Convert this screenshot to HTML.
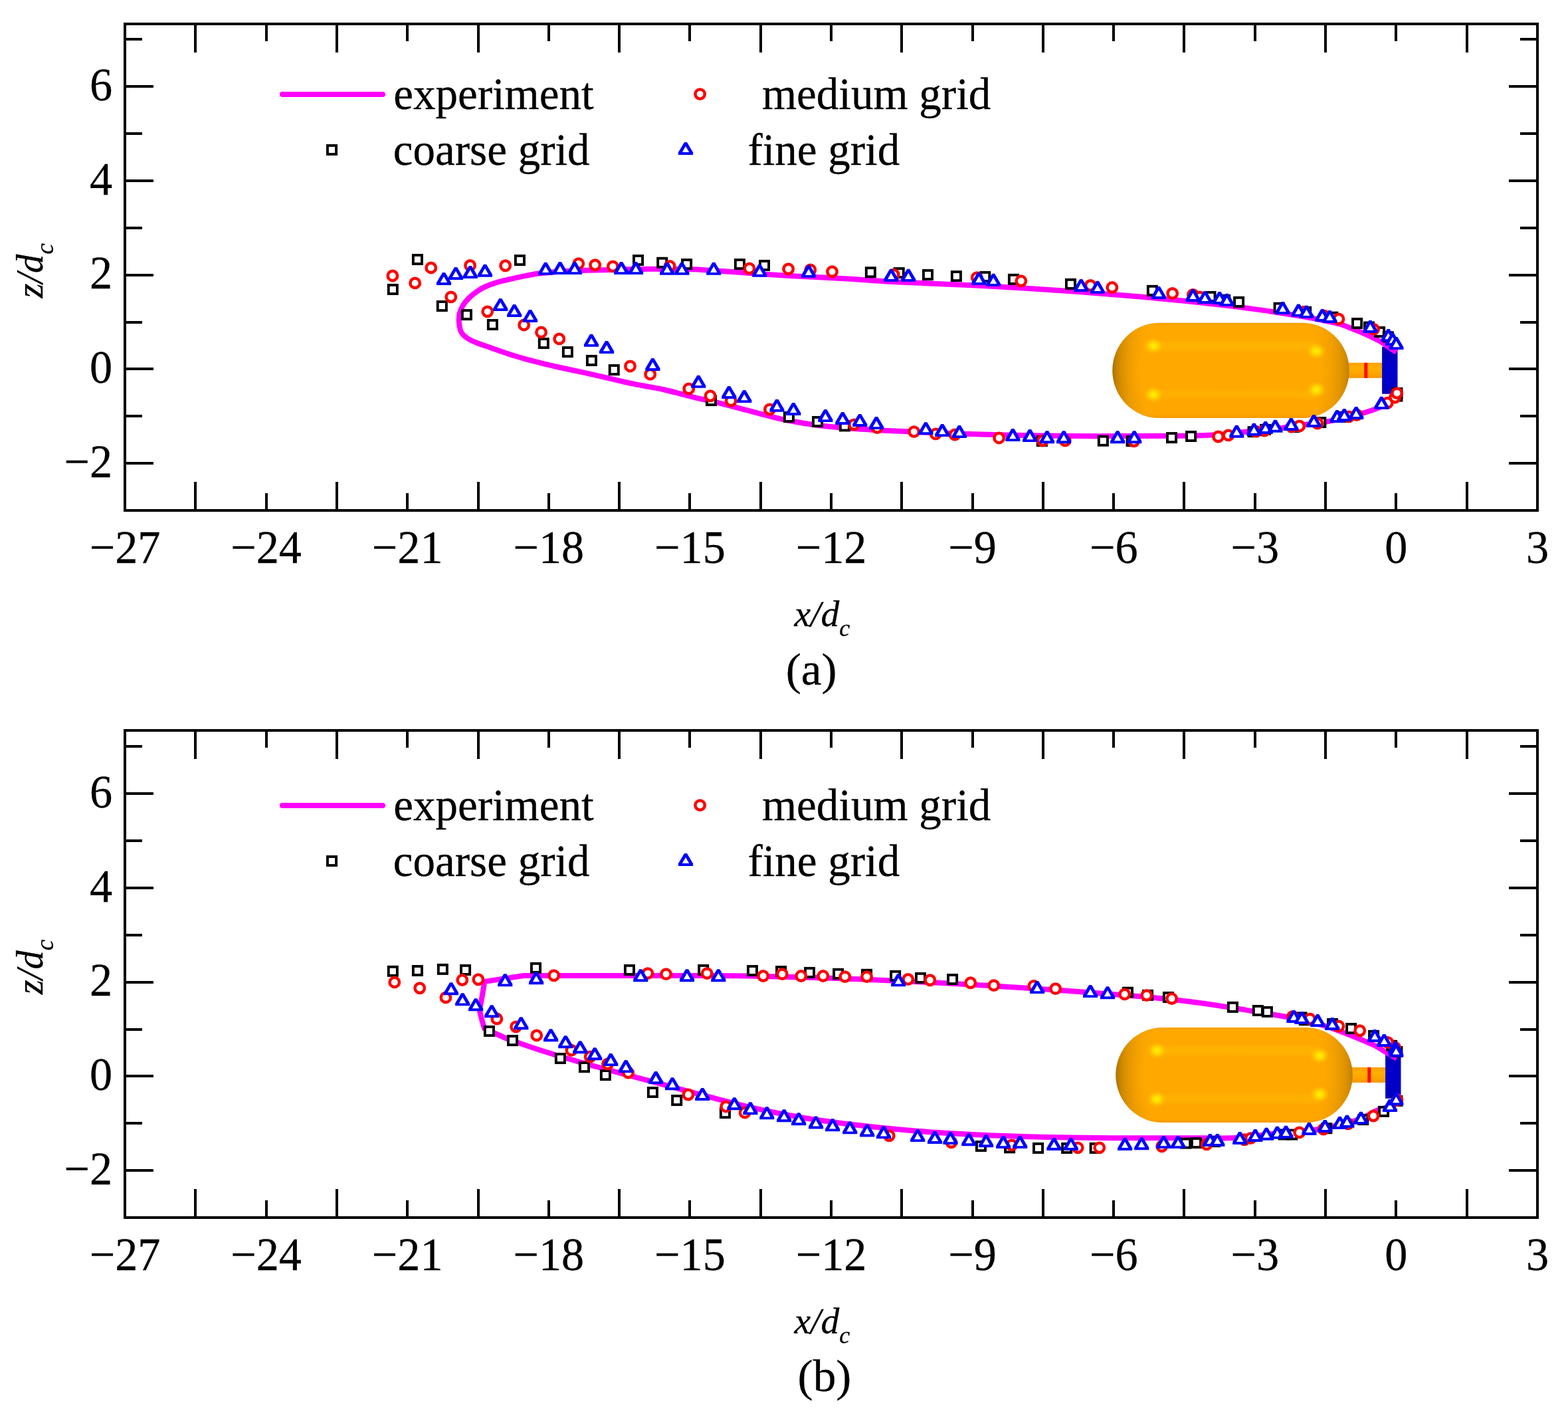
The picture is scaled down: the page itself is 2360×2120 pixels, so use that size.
<!DOCTYPE html>
<html lang="en"><head><meta charset="utf-8"><title>Cavity profile comparison</title>
<style>html,body{margin:0;padding:0;background:#fff}body{width:2360px;height:2120px;overflow:hidden}svg{display:block}</style></head><body>
<svg width="2360" height="2120" viewBox="0 0 2360 2120">
<rect width="2360" height="2120" fill="#fff"/>
<defs>
<linearGradient id="bodyg" x1="0" y1="0" x2="0" y2="1">
<stop offset="0" stop-color="#f7a000"/><stop offset="0.03" stop-color="#ffa800"/><stop offset="0.5" stop-color="#ffa900"/><stop offset="0.96" stop-color="#ffa600"/><stop offset="1" stop-color="#f39a00"/>
</linearGradient>
<linearGradient id="bodyh" x1="0" y1="0" x2="0" y2="1">
<stop offset="0.17" stop-color="#ffd000" stop-opacity="0"/><stop offset="0.245" stop-color="#ffd000" stop-opacity="0.3"/><stop offset="0.32" stop-color="#ffd000" stop-opacity="0"/>
<stop offset="0.68" stop-color="#ffd000" stop-opacity="0"/><stop offset="0.75" stop-color="#ffd000" stop-opacity="0.25"/><stop offset="0.82" stop-color="#ffd000" stop-opacity="0"/>
</linearGradient>
<radialGradient id="capl" gradientUnits="userSpaceOnUse" cx="0" cy="0" r="1" gradientTransform="translate(1744.8 557.4) scale(71.2 215)"><stop offset="0" stop-color="#000" stop-opacity="0"/><stop offset="0.36" stop-color="#000" stop-opacity="0"/><stop offset="0.450" stop-color="#000" stop-opacity="0.018"/><stop offset="0.550" stop-color="#000" stop-opacity="0.044"/><stop offset="0.625" stop-color="#000" stop-opacity="0.069"/><stop offset="0.700" stop-color="#000" stop-opacity="0.099"/><stop offset="0.800" stop-color="#000" stop-opacity="0.150"/><stop offset="0.870" stop-color="#000" stop-opacity="0.198"/><stop offset="0.920" stop-color="#000" stop-opacity="0.244"/><stop offset="0.960" stop-color="#000" stop-opacity="0.294"/><stop offset="0.985" stop-color="#000" stop-opacity="0.342"/><stop offset="1.000" stop-color="#000" stop-opacity="0.420"/></radialGradient>
<radialGradient id="capr" gradientUnits="userSpaceOnUse" cx="0" cy="0" r="1" gradientTransform="translate(1960.3 557.4) scale(71.2 215)"><stop offset="0" stop-color="#000" stop-opacity="0"/><stop offset="0.36" stop-color="#000" stop-opacity="0"/><stop offset="0.450" stop-color="#000" stop-opacity="0.014"/><stop offset="0.550" stop-color="#000" stop-opacity="0.034"/><stop offset="0.625" stop-color="#000" stop-opacity="0.052"/><stop offset="0.700" stop-color="#000" stop-opacity="0.075"/><stop offset="0.800" stop-color="#000" stop-opacity="0.114"/><stop offset="0.870" stop-color="#000" stop-opacity="0.151"/><stop offset="0.920" stop-color="#000" stop-opacity="0.186"/><stop offset="0.960" stop-color="#000" stop-opacity="0.224"/><stop offset="0.985" stop-color="#000" stop-opacity="0.261"/><stop offset="1.000" stop-color="#000" stop-opacity="0.320"/></radialGradient>
<radialGradient id="hl"><stop offset="0" stop-color="#fff200" stop-opacity="1"/><stop offset="0.35" stop-color="#ffe800" stop-opacity="0.8"/><stop offset="1" stop-color="#ffc400" stop-opacity="0"/></radialGradient>
<linearGradient id="neckg" x1="0" y1="0" x2="0" y2="1">
<stop offset="0" stop-color="#ffa000"/><stop offset="0.35" stop-color="#ffb000"/><stop offset="0.7" stop-color="#ffa400"/><stop offset="1" stop-color="#f59600"/>
</linearGradient>
<linearGradient id="discg" x1="0" y1="0" x2="0" y2="1">
<stop offset="0" stop-color="#0000b4"/><stop offset="0.45" stop-color="#0000cd"/><stop offset="1" stop-color="#0000c0"/>
</linearGradient>
<g id="ms"><rect x="-6.55" y="-6.55" width="13.1" height="13.1" fill="#fff" stroke="#000" stroke-width="3.9"/></g><g id="mc"><circle r="7.2" fill="#fff" stroke="#f00" stroke-width="4.5"/></g><g id="mt"><path d="M-11.05 9.5V5.8L-2 -9.5H2L11.05 5.8V9.5z" fill="#00f"/><path d="M0 -3.6L5.2 5.6H-5.2z" fill="#fff"/></g></defs>
<rect x="188" y="36" width="2126" height="732" fill="none" stroke="#000" stroke-width="4"/>
<path d="M294 768v-43M294 36v43M401 768v-26M401 36v26M507 768v-43M507 36v43M613 768v-26M613 36v26M720 768v-43M720 36v43M826 768v-26M826 36v26M932 768v-43M932 36v43M1038 768v-26M1038 36v26M1145 768v-43M1145 36v43M1251 768v-26M1251 36v26M1357 768v-43M1357 36v43M1464 768v-26M1464 36v26M1570 768v-43M1570 36v43M1676 768v-26M1676 36v26M1782 768v-43M1782 36v43M1889 768v-26M1889 36v26M1995 768v-43M1995 36v43M2101 768v-26M2101 36v26M2208 768v-43M2208 36v43M188 697h43M2314 697h-43M188 626h26M2314 626h-26M188 555h43M2314 555h-43M188 485h26M2314 485h-26M188 414h43M2314 414h-43M188 343h26M2314 343h-26M188 272h43M2314 272h-43M188 201h26M2314 201h-26M188 130h43M2314 130h-43M188 59h26M2314 59h-26" fill="none" stroke="#000" stroke-width="4"/>
<g transform="translate(0 0)">
<defs><clipPath id="cac"><path d="M1744.8 485.8H1960.3C1999.24 485.8 2030.8 517.86 2030.8 557.4C2030.8 596.94 1999.24 629 1960.3 629H1744.8C1705.86 629 1674.3 596.94 1674.3 557.4C1674.3 517.86 1705.86 485.8 1744.8 485.8z"/></clipPath></defs>
<rect x="2022.8" y="545.8" width="57.6" height="23" fill="url(#neckg)"/>
<rect x="2053.3" y="545.8" width="5" height="23" fill="#ff0a00"/>
<rect x="2080.1" y="521.8" width="23.4" height="70.9" fill="url(#discg)"/>
<path d="M1744.8 485.8H1960.3C1999.24 485.8 2030.8 517.86 2030.8 557.4C2030.8 596.94 1999.24 629 1960.3 629H1744.8C1705.86 629 1674.3 596.94 1674.3 557.4C1674.3 517.86 1705.86 485.8 1744.8 485.8z" fill="url(#bodyg)"/>
<g clip-path="url(#cac)">
<rect x="1738" y="485.8" width="242" height="143.2" fill="url(#bodyh)"/>
<rect x="1673.3" y="485.8" width="71.5" height="143.2" fill="url(#capl)"/>
<rect x="1960.3" y="485.8" width="71.5" height="143.2" fill="url(#capr)"/>
<ellipse cx="1736.0" cy="520.4" rx="15" ry="13" fill="url(#hl)"/>
<ellipse cx="1736.0" cy="593.6" rx="15" ry="13" fill="url(#hl)"/>
<ellipse cx="1981.2" cy="528.2" rx="15" ry="13" fill="url(#hl)"/>
<ellipse cx="1981.2" cy="586.4" rx="15" ry="13" fill="url(#hl)"/>
</g></g>
<path d="M2101.8 530C2100.17 528.93 2095.43 525.93 2092 523.6C2088.57 521.27 2085.18 518.43 2081.2 516C2077.22 513.57 2073 511.43 2068.1 509C2063.2 506.57 2057.4 503.85 2051.8 501.4C2046.2 498.95 2040.47 496.62 2034.5 494.3C2028.53 491.98 2023.42 489.57 2016 487.49C2008.58 485.41 1999.33 483.7 1990 481.81C1980.67 479.91 1972.72 478.31 1960 476.13C1947.28 473.96 1926.83 470.73 1913.7 468.75C1900.57 466.76 1893.48 465.84 1881.2 464.23C1868.92 462.62 1856.87 461.04 1840 459.09C1823.13 457.15 1797.82 454.4 1780 452.56C1762.18 450.72 1747.82 449.4 1733.1 448.04C1718.38 446.69 1708.97 445.84 1691.7 444.41C1674.43 442.99 1650.23 441.04 1629.5 439.5C1608.77 437.96 1588.03 436.51 1567.3 435.17C1546.57 433.82 1529.28 432.71 1505.1 431.42C1480.92 430.14 1446.38 428.55 1422.2 427.44C1398.02 426.34 1378.3 425.72 1360 424.79C1341.7 423.87 1327.23 422.83 1312.4 421.9C1297.57 420.98 1284.82 420.07 1271 419.26C1257.18 418.45 1243.33 417.76 1229.5 417.04C1215.67 416.32 1201.82 415.71 1188 414.94C1174.18 414.18 1160.42 413.38 1146.6 412.44C1132.78 411.49 1118.92 410.29 1105.1 409.28C1091.28 408.26 1074.07 407.02 1063.7 406.37C1053.33 405.72 1056.73 405.62 1042.9 405.37C1029.07 405.12 999 404.81 980.7 404.85C962.4 404.9 951.38 405.28 933.1 405.64C914.82 406 888.27 406.33 871 407.03C853.73 407.72 839.87 409 829.5 409.8C819.13 410.59 815.72 410.83 808.8 411.8C801.88 412.77 794.92 414.22 788 415.6C781.08 416.98 774.2 418.48 767.3 420.1C760.4 421.72 752.82 423.4 746.6 425.3C740.38 427.2 734.83 429.25 730 431.5C725.17 433.75 721.75 435.87 717.6 438.8C713.45 441.73 708.57 445.65 705.1 449.1C701.63 452.55 699.05 455.7 696.8 459.5C694.55 463.3 692.6 467.87 691.6 471.9C690.6 475.93 690.63 479.77 690.8 483.7C690.97 487.63 691.85 492.53 692.6 495.5C693.35 498.47 693.85 499.52 695.3 501.5C696.75 503.48 698.92 505.58 701.3 507.4C703.68 509.22 706.23 510.77 709.6 512.4C712.97 514.03 716.57 515.37 721.5 517.2C726.43 519.03 733.28 521.3 739.2 523.4C745.12 525.5 751.07 527.79 757 529.82C762.93 531.84 768.88 533.73 774.8 535.53C780.72 537.33 785.03 538.62 792.5 540.62C799.97 542.62 810.15 545.25 819.6 547.53C829.05 549.8 839.33 552.08 849.2 554.27C859.07 556.46 868.67 558.45 878.8 560.68C888.93 562.91 900.95 565.58 910 567.65C919.05 569.73 925.78 571.45 933.1 573.12C940.42 574.79 946.08 576.12 953.9 577.68C961.72 579.25 972.07 580.98 980 582.49C987.93 584 991.02 584.29 1001.5 586.75C1011.98 589.22 1029.08 593.91 1042.9 597.28C1056.72 600.64 1070.58 603.55 1084.4 606.95C1098.22 610.35 1113.72 614.53 1125.8 617.68C1137.88 620.83 1146.53 623.31 1156.9 625.87C1167.27 628.43 1175.9 630.71 1188 633.03C1200.1 635.34 1215.67 637.95 1229.5 639.77C1243.33 641.59 1257.18 642.8 1271 643.95C1284.82 645.09 1298.58 645.84 1312.4 646.66C1326.22 647.48 1332.15 647.89 1353.9 648.87C1375.65 649.84 1417.7 651.62 1442.9 652.53C1468.1 653.43 1484.37 653.8 1505.1 654.29C1525.83 654.77 1543.12 655.14 1567.3 655.45C1591.48 655.77 1614.75 656.14 1650.2 656.18C1685.65 656.22 1750.03 656.03 1780 655.7C1809.97 655.37 1814.23 655.2 1830 654.2C1845.77 653.2 1857.77 651.45 1874.6 649.7C1891.43 647.95 1915.93 645.52 1931 643.7C1946.07 641.88 1954.08 640.33 1965 638.8C1975.92 637.27 1986.5 636.2 1996.5 634.5C2006.5 632.8 2016.32 630.62 2025 628.6C2033.68 626.58 2041.42 624.47 2048.6 622.4C2055.78 620.33 2062.53 618.18 2068.1 616.2C2073.67 614.22 2077.85 612.62 2082 610.5C2086.15 608.38 2089.75 606.08 2093 603.5C2096.25 600.92 2100.08 596.42 2101.5 595" fill="none" stroke="#f0f" stroke-width="8.0" stroke-linejoin="round" stroke-linecap="butt"/>
<g><use href="#ms" x="591.3" y="435.46"/><use href="#ms" x="628.41" y="390.47"/><use href="#ms" x="665.31" y="460.54"/><use href="#ms" x="702.42" y="473.6"/><use href="#ms" x="741.39" y="488.53"/><use href="#ms" x="782.44" y="391.51"/><use href="#ms" x="818.3" y="516.52"/><use href="#ms" x="854.37" y="529.58"/><use href="#ms" x="890.44" y="542.43"/><use href="#ms" x="924.23" y="556.53"/><use href="#ms" x="960.51" y="391.51"/><use href="#ms" x="996.69" y="395.24"/><use href="#ms" x="1033.59" y="397.52"/><use href="#ms" x="1070.49" y="602.55"/><use href="#ms" x="1113.41" y="397.52"/><use href="#ms" x="1150.51" y="399.39"/><use href="#ms" x="1187.41" y="627.42"/><use href="#ms" x="1230.53" y="634.47"/><use href="#ms" x="1271.37" y="640.9"/><use href="#ms" x="1310.35" y="409.75"/><use href="#ms" x="1353.26" y="410.58"/><use href="#ms" x="1396.49" y="413.48"/><use href="#ms" x="1439.4" y="415.56"/><use href="#ms" x="1482.72" y="416.39"/><use href="#ms" x="1525.43" y="420.33"/><use href="#ms" x="1568.34" y="663.7"/><use href="#ms" x="1611.46" y="427.37"/><use href="#ms" x="1660.38" y="663.29"/><use href="#ms" x="1703.09" y="663.7"/><use href="#ms" x="1734.39" y="437.32"/><use href="#ms" x="1763.5" y="658.6"/><use href="#ms" x="1792.6" y="656.5"/><use href="#ms" x="1822" y="446.4"/><use href="#ms" x="1843.7" y="451.3"/><use href="#ms" x="1864.6" y="454.4"/><use href="#ms" x="1886.1" y="649.7"/><use href="#ms" x="1904.5" y="646.4"/><use href="#ms" x="1925.1" y="463.2"/><use href="#ms" x="1948.1" y="642.6"/><use href="#ms" x="1965.7" y="469.3"/><use href="#ms" x="1987.8" y="635.6"/><use href="#ms" x="2005.9" y="477.2"/><use href="#ms" x="2019.8" y="627.4"/><use href="#ms" x="2042.6" y="486.5"/><use href="#ms" x="2060.5" y="492.1"/><use href="#ms" x="2076.6" y="499.5"/><use href="#ms" x="2089.3" y="506.8"/><use href="#ms" x="2102.9" y="591.4"/><use href="#ms" x="2102.9" y="596"/></g>
<g><use href="#mc" x="590.89" y="414.94"/><use href="#mc" x="624.68" y="425.92"/><use href="#mc" x="648.73" y="402.91"/><use href="#mc" x="678.79" y="446.86"/><use href="#mc" x="707.6" y="399.39"/><use href="#mc" x="733.72" y="468.84"/><use href="#mc" x="760.67" y="399.8"/><use href="#mc" x="788.66" y="488.94"/><use href="#mc" x="814.57" y="499.93"/><use href="#mc" x="841.73" y="509.88"/><use href="#mc" x="870.75" y="396.69"/><use href="#mc" x="895.63" y="398.77"/><use href="#mc" x="922.37" y="400.84"/><use href="#mc" x="948.49" y="550.93"/><use href="#mc" x="978.66" y="563.16"/><use href="#mc" x="1008.09" y="400.42"/><use href="#mc" x="1036.7" y="584.93"/><use href="#mc" x="1069.04" y="595.71"/><use href="#mc" x="1100.14" y="602.96"/><use href="#mc" x="1127.92" y="403.95"/><use href="#mc" x="1158.39" y="616.02"/><use href="#mc" x="1186.58" y="404.78"/><use href="#mc" x="1219.75" y="406.02"/><use href="#mc" x="1252.51" y="408.72"/><use href="#mc" x="1285.47" y="638.83"/><use href="#mc" x="1320.09" y="643.59"/><use href="#mc" x="1345.17" y="413.28"/><use href="#mc" x="1375.65" y="649.61"/><use href="#mc" x="1408.3" y="652.92"/><use href="#mc" x="1437.12" y="653.96"/><use href="#mc" x="1470.29" y="417.63"/><use href="#mc" x="1503.66" y="658.93"/><use href="#mc" x="1536.83" y="422.81"/><use href="#mc" x="1569.38" y="663.08"/><use href="#mc" x="1603.17" y="663.08"/><use href="#mc" x="1641.31" y="429.45"/><use href="#mc" x="1673.86" y="432.56"/><use href="#mc" x="1706.61" y="663.7"/><use href="#mc" x="1764.66" y="441.47"/><use href="#mc" x="1795.5" y="443.5"/><use href="#mc" x="1806" y="447"/><use href="#mc" x="1833.6" y="657"/><use href="#mc" x="1848.9" y="654.9"/><use href="#mc" x="1890.4" y="649.1"/><use href="#mc" x="1902.9" y="648"/><use href="#mc" x="1944.1" y="642.1"/><use href="#mc" x="1955.7" y="641"/><use href="#mc" x="1963.3" y="469.3"/><use href="#mc" x="1982.9" y="637"/><use href="#mc" x="1993.2" y="475.3"/><use href="#mc" x="2014.9" y="479.9"/><use href="#mc" x="2030.1" y="626.9"/><use href="#mc" x="2042.1" y="624.2"/><use href="#mc" x="2067.6" y="495.4"/><use href="#mc" x="2088.2" y="606.2"/><use href="#mc" x="2099.6" y="598.1"/><use href="#mc" x="2102.6" y="591.6"/></g>
<g><use href="#mt" x="668.01" y="419.5"/><use href="#mt" x="686.04" y="411.41"/><use href="#mt" x="707.81" y="409.55"/><use href="#mt" x="729.99" y="407.27"/><use href="#mt" x="753.21" y="458.47"/><use href="#mt" x="774.15" y="467.38"/><use href="#mt" x="797.99" y="475.47"/><use href="#mt" x="821.2" y="404.36"/><use href="#mt" x="842.97" y="403.53"/><use href="#mt" x="864.95" y="403.53"/><use href="#mt" x="890.03" y="512.37"/><use href="#mt" x="913.04" y="522.53"/><use href="#mt" x="935.22" y="403.53"/><use href="#mt" x="956.99" y="403.53"/><use href="#mt" x="982.39" y="548.44"/><use href="#mt" x="1004.16" y="404.36"/><use href="#mt" x="1026.34" y="404.36"/><use href="#mt" x="1051.21" y="574.35"/><use href="#mt" x="1074.23" y="404.36"/><use href="#mt" x="1097.24" y="590.52"/><use href="#mt" x="1120.25" y="596.54"/><use href="#mt" x="1143.26" y="407.27"/><use href="#mt" x="1169.38" y="610.22"/><use href="#mt" x="1194.25" y="615.4"/><use href="#mt" x="1217.06" y="408.3"/><use href="#mt" x="1242.35" y="625.56"/><use href="#mt" x="1268.26" y="629.5"/><use href="#mt" x="1294.18" y="632.4"/><use href="#mt" x="1319.05" y="636.54"/><use href="#mt" x="1341.23" y="414.31"/><use href="#mt" x="1367.15" y="414.31"/><use href="#mt" x="1393.38" y="644.63"/><use href="#mt" x="1418.25" y="647.53"/><use href="#mt" x="1443.96" y="649.61"/><use href="#mt" x="1473.4" y="419.29"/><use href="#mt" x="1495.16" y="421.36"/><use href="#mt" x="1524.39" y="654.58"/><use href="#mt" x="1550.1" y="655.62"/><use href="#mt" x="1576.01" y="657.69"/><use href="#mt" x="1601.1" y="657.69"/><use href="#mt" x="1627.22" y="429.45"/><use href="#mt" x="1651.89" y="432.35"/><use href="#mt" x="1682.15" y="657.69"/><use href="#mt" x="1707.24" y="657.69"/><use href="#mt" x="1743.93" y="440.43"/><use href="#mt" x="1795.6" y="444.4"/><use href="#mt" x="1813.6" y="447.4"/><use href="#mt" x="1835.6" y="448.4"/><use href="#mt" x="1846.7" y="451.3"/><use href="#mt" x="1861.3" y="649.2"/><use href="#mt" x="1887.4" y="646.2"/><use href="#mt" x="1904.7" y="643.4"/><use href="#mt" x="1919.4" y="641.2"/><use href="#mt" x="1930.6" y="463.4"/><use href="#mt" x="1943.3" y="638.4"/><use href="#mt" x="1954.4" y="467.1"/><use href="#mt" x="1966.4" y="469.3"/><use href="#mt" x="1977.5" y="633.4"/><use href="#mt" x="1990.3" y="474.4"/><use href="#mt" x="2001.4" y="476.4"/><use href="#mt" x="2012.5" y="626.4"/><use href="#mt" x="2023.4" y="624.4"/><use href="#mt" x="2041.2" y="621.4"/><use href="#mt" x="2062.4" y="491.4"/><use href="#mt" x="2079.3" y="606.3"/><use href="#mt" x="2089.6" y="504.6"/><use href="#mt" x="2096" y="510.6"/><use href="#mt" x="2101.5" y="516.6"/></g>
<path d="M425 141.9H576" stroke="#f0f" stroke-width="8" stroke-linecap="round" fill="none"/>
<use href="#ms" x="499.5" y="225.5"/>
<use href="#mc" x="1053.6" y="141.6"/>
<use href="#mt" x="1032" y="223.5"/>
<g font-family="'Liberation Serif','Times New Roman',serif" font-size="67.0" fill="#000" stroke="#000" stroke-width="0.3">
<text x="592.2" y="164.3">experiment</text>
<text x="591.8" y="247.9">coarse grid</text>
<text x="1147" y="164.3">medium grid</text>
<text x="1125.4" y="247.9">fine grid</text>
</g>
<g font-family="'Liberation Serif','Times New Roman',serif" font-size="70" fill="#000" stroke="#000" stroke-width="0.3">
<text transform="translate(188 846.9) scale(0.975 1)" text-anchor="middle">−27</text>
<text transform="translate(400.6 846.9) scale(0.975 1)" text-anchor="middle">−24</text>
<text transform="translate(613.2 846.9) scale(0.975 1)" text-anchor="middle">−21</text>
<text transform="translate(825.8 846.9) scale(0.975 1)" text-anchor="middle">−18</text>
<text transform="translate(1038.4 846.9) scale(0.975 1)" text-anchor="middle">−15</text>
<text transform="translate(1251 846.9) scale(0.975 1)" text-anchor="middle">−12</text>
<text transform="translate(1463.6 846.9) scale(0.975 1)" text-anchor="middle">−9</text>
<text transform="translate(1676.2 846.9) scale(0.975 1)" text-anchor="middle">−6</text>
<text transform="translate(1888.8 846.9) scale(0.975 1)" text-anchor="middle">−3</text>
<text transform="translate(2101.4 846.9) scale(0.975 1)" text-anchor="middle">0</text>
<text transform="translate(2314 846.9) scale(0.975 1)" text-anchor="middle">3</text>
<text transform="translate(169 150.9) scale(0.975 1)" text-anchor="end">6</text>
<text transform="translate(169 292.63) scale(0.975 1)" text-anchor="end">4</text>
<text transform="translate(169 434.37) scale(0.975 1)" text-anchor="end">2</text>
<text transform="translate(169 576.1) scale(0.975 1)" text-anchor="end">0</text>
<text transform="translate(169 717.83) scale(0.975 1)" text-anchor="end">−2</text>
</g>
<text x="1195.4" y="941.6" font-family="'Liberation Serif','Times New Roman',serif" font-style="italic" font-size="55.5" fill="#000" stroke="#000" stroke-width="0.3">x/d<tspan font-size="36" dy="15">c</tspan></text>
<text transform="translate(64.2 448.6) rotate(-90)" font-family="'Liberation Serif','Times New Roman',serif" font-style="italic" font-size="56.5" fill="#000" stroke="#000" stroke-width="0.3">z/d<tspan font-size="37.5" dy="15.4">c</tspan></text>
<text transform="translate(1182.8 1029.7) scale(1.03 1)" font-family="'Liberation Serif','Times New Roman',serif" font-size="67.2" fill="#000" stroke="#000" stroke-width="0.3">(a)</text>
<rect x="188" y="1099" width="2126" height="733" fill="none" stroke="#000" stroke-width="4"/>
<path d="M294 1832v-43M294 1099v43M401 1832v-26M401 1099v26M507 1832v-43M507 1099v43M613 1832v-26M613 1099v26M720 1832v-43M720 1099v43M826 1832v-26M826 1099v26M932 1832v-43M932 1099v43M1038 1832v-26M1038 1099v26M1145 1832v-43M1145 1099v43M1251 1832v-26M1251 1099v26M1357 1832v-43M1357 1099v43M1464 1832v-26M1464 1099v26M1570 1832v-43M1570 1099v43M1676 1832v-26M1676 1099v26M1782 1832v-43M1782 1099v43M1889 1832v-26M1889 1099v26M1995 1832v-43M1995 1099v43M2101 1832v-26M2101 1099v26M2208 1832v-43M2208 1099v43M188 1761h43M2314 1761h-43M188 1690h26M2314 1690h-26M188 1619h43M2314 1619h-43M188 1549h26M2314 1549h-26M188 1478h43M2314 1478h-43M188 1407h26M2314 1407h-26M188 1336h43M2314 1336h-43M188 1265h26M2314 1265h-26M188 1194h43M2314 1194h-43M188 1123h26M2314 1123h-26" fill="none" stroke="#000" stroke-width="4"/>
<g transform="translate(5 1060.1)">
<defs><clipPath id="cbc"><path d="M1744.8 485.8H1960.3C1999.24 485.8 2030.8 517.86 2030.8 557.4C2030.8 596.94 1999.24 629 1960.3 629H1744.8C1705.86 629 1674.3 596.94 1674.3 557.4C1674.3 517.86 1705.86 485.8 1744.8 485.8z"/></clipPath></defs>
<rect x="2022.8" y="545.8" width="57.6" height="23" fill="url(#neckg)"/>
<rect x="2053.3" y="545.8" width="5" height="23" fill="#ff0a00"/>
<rect x="2080.1" y="521.8" width="23.4" height="70.9" fill="url(#discg)"/>
<path d="M1744.8 485.8H1960.3C1999.24 485.8 2030.8 517.86 2030.8 557.4C2030.8 596.94 1999.24 629 1960.3 629H1744.8C1705.86 629 1674.3 596.94 1674.3 557.4C1674.3 517.86 1705.86 485.8 1744.8 485.8z" fill="url(#bodyg)"/>
<g clip-path="url(#cbc)">
<rect x="1738" y="485.8" width="242" height="143.2" fill="url(#bodyh)"/>
<rect x="1673.3" y="485.8" width="71.5" height="143.2" fill="url(#capl)"/>
<rect x="1960.3" y="485.8" width="71.5" height="143.2" fill="url(#capr)"/>
<ellipse cx="1736.0" cy="520.4" rx="15" ry="13" fill="url(#hl)"/>
<ellipse cx="1736.0" cy="593.6" rx="15" ry="13" fill="url(#hl)"/>
<ellipse cx="1981.2" cy="528.2" rx="15" ry="13" fill="url(#hl)"/>
<ellipse cx="1981.2" cy="586.4" rx="15" ry="13" fill="url(#hl)"/>
</g></g>
<path d="M2102 1592.5C2099.43 1591.02 2091.88 1586.72 2086.6 1583.6C2081.32 1580.48 2076.63 1577.05 2070.3 1573.8C2063.97 1570.55 2055.83 1567.17 2048.6 1564.1C2041.37 1561.03 2036.17 1558.86 2026.9 1555.39C2017.63 1551.92 2004.15 1546.67 1993 1543.25C1981.85 1539.84 1969.58 1537.12 1960 1534.91C1950.42 1532.7 1945.02 1531.78 1935.5 1530.01C1925.98 1528.24 1917.38 1526.76 1902.9 1524.31C1888.42 1521.87 1866.7 1518.14 1848.6 1515.34C1830.5 1512.53 1812.4 1509.8 1794.3 1507.49C1776.2 1505.18 1760.55 1503.46 1740 1501.49C1719.45 1499.52 1692.87 1497.41 1671 1495.67C1649.13 1493.93 1629.53 1492.52 1608.8 1491.04C1588.07 1489.55 1567.33 1488.13 1546.6 1486.76C1525.87 1485.4 1505.13 1484.1 1484.4 1482.86C1463.67 1481.62 1442.93 1480.45 1422.2 1479.34C1401.47 1478.24 1381.75 1477.24 1360 1476.23C1338.25 1475.22 1316.9 1474.26 1291.7 1473.29C1266.5 1472.33 1236.45 1471.25 1208.8 1470.44C1181.15 1469.62 1152.27 1468.8 1125.8 1468.4C1099.33 1467.99 1077.63 1468.07 1050 1468C1022.37 1467.93 1003.65 1468 960 1468C938.17 1468 788.1 1468 788.1 1468C788.1 1468 729.5 1476.9 729.5 1476.9C729.5 1476.9 725.19 1501.4 724.6 1505.2C723.42 1512.8 721.67 1515.45 722.4 1522.5C722.77 1526.03 729 1547.5 729 1547.5C729 1547.5 755.38 1559.72 763.2 1562.7C778.85 1568.67 803.43 1577.07 822.9 1583.31C842.37 1589.54 865.08 1595.83 880 1600.1C894.92 1604.37 899.07 1605.35 912.4 1608.92C925.73 1612.5 945.15 1617.6 960 1621.56C974.85 1625.52 987.68 1628.97 1001.5 1632.69C1015.32 1636.4 1029.08 1640.15 1042.9 1643.83C1056.72 1647.52 1070.58 1651.28 1084.4 1654.82C1098.22 1658.37 1111.98 1661.88 1125.8 1665.11C1139.62 1668.34 1153.47 1671.44 1167.3 1674.2C1181.13 1676.96 1194.98 1679.41 1208.8 1681.68C1222.62 1683.95 1236.38 1685.93 1250.2 1687.83C1264.02 1689.73 1277.88 1691.45 1291.7 1693.07C1305.52 1694.68 1318.38 1696.07 1333.1 1697.5C1347.82 1698.93 1365.15 1700.46 1380 1701.65C1394.85 1702.84 1404.8 1703.6 1422.2 1704.66C1439.6 1705.72 1463.67 1707.07 1484.4 1708C1505.13 1708.92 1525.87 1709.63 1546.6 1710.21C1567.33 1710.8 1584.62 1711.19 1608.8 1711.52C1632.98 1711.86 1663.17 1712.12 1691.7 1712.23C1720.23 1712.34 1751.95 1712.24 1780 1712.21C1808.05 1712.17 1837.72 1713 1860 1712C1882.28 1711 1898.7 1707.7 1913.7 1706.2C1928.7 1704.7 1938.92 1704.07 1950 1703C1961.08 1701.93 1970.83 1701.13 1980.2 1699.8C1989.57 1698.47 1996.62 1697.15 2006.2 1695C2015.78 1692.85 2029.07 1689.65 2037.7 1686.9C2046.33 1684.15 2052.12 1681.23 2058 1678.5C2063.88 1675.77 2068.5 1672.42 2073 1670.5C2077.5 1668.58 2081.67 1668.17 2085 1667C2088.33 1665.83 2090.67 1665.17 2093 1663.5C2095.33 1661.83 2096.92 1659.92 2099 1657C2101.08 1654.08 2104.42 1647.83 2105.5 1646" fill="none" stroke="#f0f" stroke-width="8.0" stroke-linejoin="round" stroke-linecap="butt"/>
<g><use href="#ms" x="591.3" y="1461.3"/><use href="#ms" x="628.41" y="1460.47"/><use href="#ms" x="666.35" y="1458.4"/><use href="#ms" x="700.55" y="1459.44"/><use href="#ms" x="736.42" y="1551.48"/><use href="#ms" x="771.45" y="1565.58"/><use href="#ms" x="806.49" y="1456.33"/><use href="#ms" x="843.39" y="1592.53"/><use href="#ms" x="879.46" y="1605.59"/><use href="#ms" x="911.38" y="1617.61"/><use href="#ms" x="947.45" y="1459.44"/><use href="#ms" x="982.39" y="1643.52"/><use href="#ms" x="1018.67" y="1655.55"/><use href="#ms" x="1058.68" y="1459.44"/><use href="#ms" x="1091.43" y="1674.62"/><use href="#ms" x="1132.48" y="1460.47"/><use href="#ms" x="1175.6" y="1461.51"/><use href="#ms" x="1218.51" y="1463.38"/><use href="#ms" x="1261.63" y="1465.24"/><use href="#ms" x="1304.54" y="1466.28"/><use href="#ms" x="1347.66" y="1468.35"/><use href="#ms" x="1385.5" y="1471.46"/><use href="#ms" x="1433.59" y="1473.53"/><use href="#ms" x="1476.51" y="1724.58"/><use href="#ms" x="1519.62" y="1726.86"/><use href="#ms" x="1562.54" y="1727.48"/><use href="#ms" x="1605.66" y="1727.48"/><use href="#ms" x="1648.15" y="1727.48"/><use href="#ms" x="1697.49" y="1493.23"/><use href="#ms" x="1727.55" y="1497.37"/><use href="#ms" x="1758.44" y="1500.48"/><use href="#ms" x="1784.7" y="1720.2"/><use href="#ms" x="1800.5" y="1719.6"/><use href="#ms" x="1828.7" y="1717.7"/><use href="#ms" x="1855.4" y="1515.4"/><use href="#ms" x="1893.4" y="1520.5"/><use href="#ms" x="1907.4" y="1522.4"/><use href="#ms" x="1932.2" y="1707"/><use href="#ms" x="1944.8" y="1707.1"/><use href="#ms" x="1959" y="1530.9"/><use href="#ms" x="1963.3" y="1534.7"/><use href="#ms" x="1996.8" y="1697.7"/><use href="#ms" x="2005.5" y="1540.4"/><use href="#ms" x="2033.6" y="1547.5"/><use href="#ms" x="2051.8" y="1684.6"/><use href="#ms" x="2067.6" y="1558.3"/><use href="#ms" x="2082.6" y="1672.4"/><use href="#ms" x="2094.7" y="1573.3"/><use href="#ms" x="2102.9" y="1582.5"/><use href="#ms" x="2102.9" y="1656.5"/></g>
<g><use href="#mc" x="593.79" y="1477.89"/><use href="#mc" x="631.73" y="1486.8"/><use href="#mc" x="670.91" y="1500.9"/><use href="#mc" x="695.78" y="1474.57"/><use href="#mc" x="719.83" y="1473.74"/><use href="#mc" x="747.82" y="1533.03"/><use href="#mc" x="776.63" y="1544.85"/><use href="#mc" x="807.73" y="1557.91"/><use href="#mc" x="833.64" y="1467.73"/><use href="#mc" x="859.97" y="1580.3"/><use href="#mc" x="888.16" y="1590.04"/><use href="#mc" x="914.49" y="1601.03"/><use href="#mc" x="945.59" y="1614.09"/><use href="#mc" x="974.93" y="1464.62"/><use href="#mc" x="1002.5" y="1465.66"/><use href="#mc" x="1035.87" y="1647.05"/><use href="#mc" x="1064.07" y="1464.62"/><use href="#mc" x="1092.68" y="1664.88"/><use href="#mc" x="1121.08" y="1674"/><use href="#mc" x="1148.65" y="1468.56"/><use href="#mc" x="1177.26" y="1465.66"/><use href="#mc" x="1205.66" y="1468.56"/><use href="#mc" x="1238.83" y="1468.56"/><use href="#mc" x="1271.79" y="1469.6"/><use href="#mc" x="1304.54" y="1469.6"/><use href="#mc" x="1338.33" y="1708.83"/><use href="#mc" x="1366.73" y="1473.53"/><use href="#mc" x="1399.8" y="1474.78"/><use href="#mc" x="1431.93" y="1718.78"/><use href="#mc" x="1460.75" y="1478.72"/><use href="#mc" x="1495.78" y="1482.66"/><use href="#mc" x="1522.73" y="1722.92"/><use href="#mc" x="1555.9" y="1483.48"/><use href="#mc" x="1588.66" y="1487.63"/><use href="#mc" x="1622.24" y="1726.86"/><use href="#mc" x="1654.79" y="1726.86"/><use href="#mc" x="1692.72" y="1495.92"/><use href="#mc" x="1725.89" y="1497.58"/><use href="#mc" x="1748.7" y="1724.79"/><use href="#mc" x="1763.62" y="1502.56"/><use href="#mc" x="1816" y="1721.8"/><use href="#mc" x="1873" y="1714.8"/><use href="#mc" x="1882.3" y="1712.6"/><use href="#mc" x="1945.6" y="1529.5"/><use href="#mc" x="1955.7" y="1703.9"/><use href="#mc" x="1971.5" y="1533.1"/><use href="#mc" x="1992.1" y="1699"/><use href="#mc" x="2014.9" y="1544"/><use href="#mc" x="2029" y="1690.9"/><use href="#mc" x="2046.7" y="1550.7"/><use href="#mc" x="2067" y="1679"/><use href="#mc" x="2088.8" y="1568.4"/><use href="#mc" x="2099.6" y="1576"/><use href="#mc" x="2102.9" y="1655.6"/></g>
<g><use href="#mt" x="678.99" y="1487.63"/><use href="#mt" x="696.2" y="1503.8"/><use href="#mt" x="716.1" y="1511.68"/><use href="#mt" x="740.15" y="1521.63"/><use href="#mt" x="760.26" y="1474.78"/><use href="#mt" x="784.3" y="1539.66"/><use href="#mt" x="807.11" y="1471.67"/><use href="#mt" x="829.08" y="1557.7"/><use href="#mt" x="851.26" y="1567.65"/><use href="#mt" x="873.24" y="1575.74"/><use href="#mt" x="895.21" y="1585.69"/><use href="#mt" x="919.26" y="1594.6"/><use href="#mt" x="942.06" y="1604.55"/><use href="#mt" x="964.24" y="1467.73"/><use href="#mt" x="987.16" y="1621.55"/><use href="#mt" x="1012.03" y="1630.67"/><use href="#mt" x="1034.01" y="1467.73"/><use href="#mt" x="1057.23" y="1646.43"/><use href="#mt" x="1081.27" y="1467.73"/><use href="#mt" x="1105.32" y="1660.73"/><use href="#mt" x="1129.37" y="1667.78"/><use href="#mt" x="1154.24" y="1674.83"/><use href="#mt" x="1180.16" y="1678.77"/><use href="#mt" x="1202.13" y="1683.74"/><use href="#mt" x="1228.05" y="1688.92"/><use href="#mt" x="1253.13" y="1692.86"/><use href="#mt" x="1279.25" y="1696.8"/><use href="#mt" x="1305.16" y="1700.95"/><use href="#mt" x="1330.04" y="1703.85"/><use href="#mt" x="1352.22" y="1474.78"/><use href="#mt" x="1381.15" y="1708.62"/><use href="#mt" x="1407.06" y="1711.52"/><use href="#mt" x="1430.48" y="1712.56"/><use href="#mt" x="1458.26" y="1714.63"/><use href="#mt" x="1484.18" y="1716.7"/><use href="#mt" x="1510.09" y="1718.57"/><use href="#mt" x="1535.17" y="1718.57"/><use href="#mt" x="1561.09" y="1485.56"/><use href="#mt" x="1586.38" y="1721.47"/><use href="#mt" x="1611.88" y="1721.47"/><use href="#mt" x="1641.11" y="1491.57"/><use href="#mt" x="1667.02" y="1493.64"/><use href="#mt" x="1693.14" y="1721.47"/><use href="#mt" x="1718.22" y="1720.64"/><use href="#mt" x="1751.39" y="1718.57"/><use href="#mt" x="1773.16" y="1718.57"/><use href="#mt" x="1821.4" y="1715.4"/><use href="#mt" x="1832.3" y="1715.4"/><use href="#mt" x="1866.2" y="1712.5"/><use href="#mt" x="1889.3" y="1708.4"/><use href="#mt" x="1906.1" y="1706.2"/><use href="#mt" x="1922.4" y="1704.3"/><use href="#mt" x="1935.5" y="1703.3"/><use href="#mt" x="1947.4" y="1529.4"/><use href="#mt" x="1959.3" y="1531.5"/><use href="#mt" x="1970.4" y="1698.4"/><use href="#mt" x="1983.2" y="1535.5"/><use href="#mt" x="1994.3" y="1694.4"/><use href="#mt" x="2005.2" y="1540.5"/><use href="#mt" x="2016.6" y="1689.4"/><use href="#mt" x="2027.4" y="1687.3"/><use href="#mt" x="2048.4" y="1682.3"/><use href="#mt" x="2069.2" y="1558.4"/><use href="#mt" x="2083.3" y="1565.4"/><use href="#mt" x="2092" y="1663.6"/><use href="#mt" x="2100.2" y="1576.6"/><use href="#mt" x="2101.3" y="1580.9"/><use href="#mt" x="2101.3" y="1653.7"/></g>
<path d="M425 1211.9H576" stroke="#f0f" stroke-width="8" stroke-linecap="round" fill="none"/>
<use href="#ms" x="499.5" y="1295.5"/>
<use href="#mc" x="1053.6" y="1211.6"/>
<use href="#mt" x="1032" y="1293.5"/>
<g font-family="'Liberation Serif','Times New Roman',serif" font-size="67.0" fill="#000" stroke="#000" stroke-width="0.3">
<text x="592.2" y="1234.3">experiment</text>
<text x="591.8" y="1317.9">coarse grid</text>
<text x="1147" y="1234.3">medium grid</text>
<text x="1125.4" y="1317.9">fine grid</text>
</g>
<g font-family="'Liberation Serif','Times New Roman',serif" font-size="70" fill="#000" stroke="#000" stroke-width="0.3">
<text transform="translate(188 1911.4) scale(0.975 1)" text-anchor="middle">−27</text>
<text transform="translate(400.6 1911.4) scale(0.975 1)" text-anchor="middle">−24</text>
<text transform="translate(613.2 1911.4) scale(0.975 1)" text-anchor="middle">−21</text>
<text transform="translate(825.8 1911.4) scale(0.975 1)" text-anchor="middle">−18</text>
<text transform="translate(1038.4 1911.4) scale(0.975 1)" text-anchor="middle">−15</text>
<text transform="translate(1251 1911.4) scale(0.975 1)" text-anchor="middle">−12</text>
<text transform="translate(1463.6 1911.4) scale(0.975 1)" text-anchor="middle">−9</text>
<text transform="translate(1676.2 1911.4) scale(0.975 1)" text-anchor="middle">−6</text>
<text transform="translate(1888.8 1911.4) scale(0.975 1)" text-anchor="middle">−3</text>
<text transform="translate(2101.4 1911.4) scale(0.975 1)" text-anchor="middle">0</text>
<text transform="translate(2314 1911.4) scale(0.975 1)" text-anchor="middle">3</text>
<text transform="translate(169 1214.9) scale(0.975 1)" text-anchor="end">6</text>
<text transform="translate(169 1356.63) scale(0.975 1)" text-anchor="end">4</text>
<text transform="translate(169 1498.37) scale(0.975 1)" text-anchor="end">2</text>
<text transform="translate(169 1640.1) scale(0.975 1)" text-anchor="end">0</text>
<text transform="translate(169 1781.83) scale(0.975 1)" text-anchor="end">−2</text>
</g>
<text x="1195.4" y="2005.6" font-family="'Liberation Serif','Times New Roman',serif" font-style="italic" font-size="55.5" fill="#000" stroke="#000" stroke-width="0.3">x/d<tspan font-size="36" dy="15">c</tspan></text>
<text transform="translate(64.2 1496.2) rotate(-90)" font-family="'Liberation Serif','Times New Roman',serif" font-style="italic" font-size="56.5" fill="#000" stroke="#000" stroke-width="0.3">z/d<tspan font-size="37.5" dy="15.4">c</tspan></text>
<text transform="translate(1200.6 2092.9) scale(1.03 1)" font-family="'Liberation Serif','Times New Roman',serif" font-size="67.2" fill="#000" stroke="#000" stroke-width="0.3">(b)</text>
</svg></body></html>
